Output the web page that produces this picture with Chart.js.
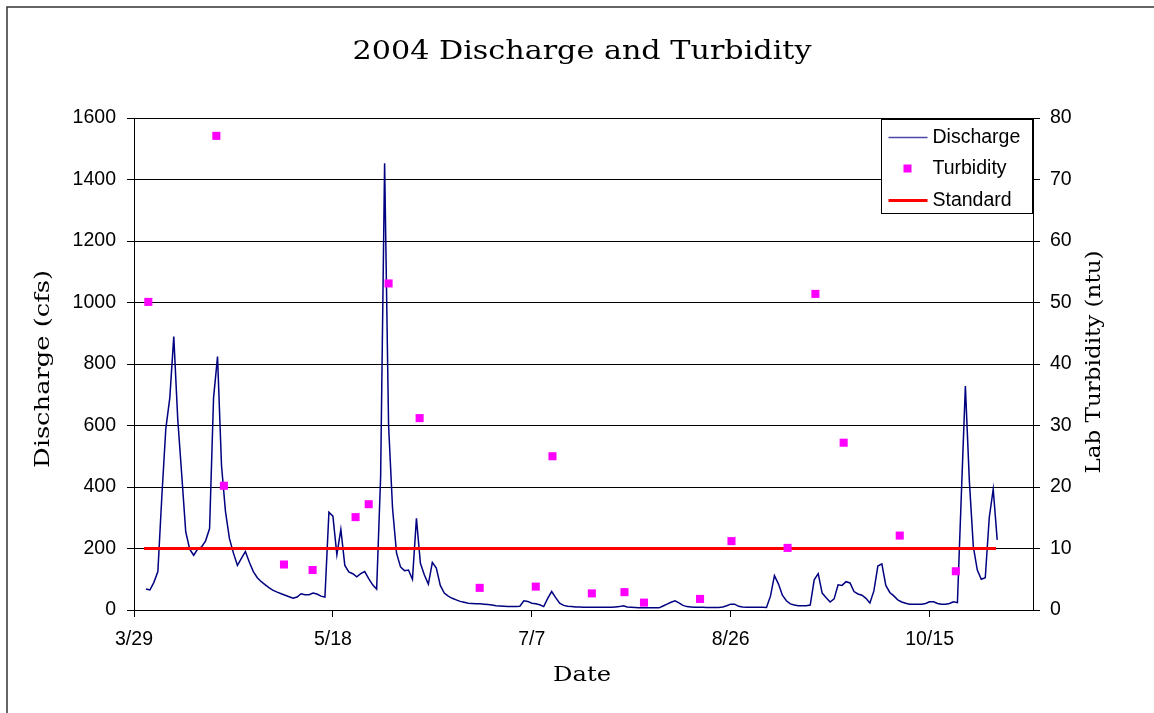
<!DOCTYPE html>
<html lang="en">
<head>
<meta charset="UTF-8">
<title>2004 Discharge and Turbidity</title>
<style>
  html, body { margin: 0; padding: 0; background: #fff; }
</style>
</head>
<body>
<canvas id="chart" width="1154" height="713"></canvas>

<script src="https://cdn.jsdelivr.net/npm/chart.js@4.4.1/dist/chart.umd.min.js"></script>
<script>
// x values are days after 3/29/2004
const tickLabels = ['3/29', '5/18', '7/7', '8/26', '10/15'];

// daily discharge (cfs), first value is day 3 (4/1)
const dischargeStart = 3;
const dischargeCfs = [
  68, 65, 90, 125, 370, 590, 690, 889, 620, 440,
  255, 198, 178, 198, 205, 225, 265, 690, 824, 470,
  320, 232, 185, 145, 168, 190, 155, 125, 105, 92,
  82, 72, 64, 58, 53, 48, 43, 38, 42, 53,
  50, 50, 55, 52, 45, 42, 318, 305, 180, 262,
  145, 124, 118, 108, 118, 125, 102, 82, 68, 433,
  1453, 600, 330, 185, 140, 128, 130, 100, 298, 152,
  114, 84, 155, 136, 80, 55, 45, 38, 33, 28,
  25, 22, 21, 20, 20, 19, 18, 16, 14, 13,
  12, 11, 11, 11, 12, 30, 28, 22, 20, 17,
  11, 38, 60, 40, 22, 15, 12, 11, 10, 10,
  9, 9, 9, 9, 9, 9, 9, 9, 10, 11,
  14, 10, 9, 8, 7, 7, 7, 7, 7, 7,
  13, 19, 25, 30, 23, 15, 11, 10, 9, 9,
  9, 8, 8, 8, 8, 10, 14, 19, 19, 12,
  10, 9, 9, 9, 9, 9, 8, 45, 112, 85,
  48, 30, 20, 16, 14, 14, 14, 16, 98, 118,
  55, 40, 26, 36, 82, 80, 92, 88, 60, 52,
  48, 38, 23, 62, 143, 150, 80, 57, 46, 33,
  26, 22, 19, 19, 19, 19, 21, 27, 27, 21,
  19, 19, 21, 27, 24, 380, 728, 420, 206, 130,
  100, 105, 300, 393, 228
];

// lab turbidity samples
const turbidityDays = [3.6, 20.7, 22.6, 37.7, 44.9, 55.7, 59, 64, 71.8, 86.9, 101,
  105.2, 115.1, 123.3, 128.2, 142.3, 150.2, 164.3, 171.3, 178.4, 192.5, 206.6];
const turbidityNtu = [50.1, 77.1, 20.2, 7.4, 6.5, 15.1, 17.2, 53.1, 31.2, 3.6, 3.8,
  25.0, 2.7, 2.9, 1.2, 1.8, 11.2, 10.1, 51.4, 27.2, 12.1, 6.3];

// turbidity standard
const standardDays = [2.5, 216.7];
const standardNtu = 10;

const tickFont = { family: '"Liberation Sans", Arial, sans-serif', size: 19.5 };

function stretchText(ctx, text, x, y, size, width, angle) {
  ctx.save();
  ctx.font = size + 'px "DejaVu Serif", serif';
  const w = ctx.measureText(text).width;
  ctx.translate(x, y);
  ctx.rotate(angle);
  ctx.scale(width / w, 1);
  ctx.textAlign = 'center';
  ctx.textBaseline = 'middle';
  ctx.fillStyle = '#000';
  ctx.fillText(text, 0, 0);
  ctx.restore();
}

// frame, titles and the boxed legend
const decor = {
  id: 'decor',
  beforeDraw(chart) {
    const c = chart.ctx;
    c.save();
    c.fillStyle = '#fff';
    c.fillRect(0, 0, chart.width, chart.height);
    c.strokeStyle = '#333';
    c.lineWidth = 1.5;
    c.strokeRect(7, 7, chart.width + 20, chart.height + 20);
    c.restore();
  },
  afterDraw(chart) {
    const c = chart.ctx;
    const area = chart.chartArea;
    stretchText(c, '2004 Discharge and Turbidity', 582, 52, 25.5, 459, 0);
    stretchText(c, 'Date', 582, 676, 20, 58, 0);
    stretchText(c, 'Discharge (cfs)', 44, 369, 21, 198, -Math.PI / 2);
    stretchText(c, 'Lab Turbidity (ntu)', 1095, 362, 21, 223, -Math.PI / 2);

    const lx = area.right - 151.5, ly = area.top + 1.5;
    c.save();
    c.fillStyle = '#fff';
    c.fillRect(lx, ly, 151, 94);
    c.strokeStyle = '#000';
    c.lineWidth = 1;
    c.strokeRect(lx, ly, 151, 94);
    c.font = '19.5px "Liberation Sans", Arial, sans-serif';
    c.textBaseline = 'middle';
    const ds = chart.data.datasets;
    const rows = [18, 49, 81];
    ds.forEach((d, i) => {
      const y = ly + rows[i];
      if (d.showLine === false) {
        c.fillStyle = d.backgroundColor;
        c.fillRect(lx + 22, y - 4, 8, 8);
      } else {
        c.strokeStyle = d.legendColor || d.borderColor;
        c.lineWidth = d.borderWidth;
        c.beginPath();
        c.moveTo(lx + 7, y);
        c.lineTo(lx + 46, y);
        c.stroke();
      }
      c.fillStyle = '#000';
      c.fillText(d.label, lx + 51, y);
    });
    c.restore();
  }
};

const ctx = document.getElementById('chart').getContext('2d');
new Chart(ctx, {
  data: {
    datasets: [
      {
        type: 'line',
        label: 'Discharge',
        data: dischargeCfs.map((v, i) => ({ x: dischargeStart + i, y: v })),
        yAxisID: 'y',
        borderColor: '#000080',
        legendColor: '#4a4aa6',
        borderWidth: 1.5,
        pointRadius: 0,
        tension: 0,
        order: 3
      },
      {
        type: 'scatter',
        label: 'Turbidity',
        data: turbidityDays.map((d, i) => ({ x: d, y: turbidityNtu[i] })),
        yAxisID: 'y1',
        showLine: false,
        pointStyle: 'rect',
        pointRadius: 5.7,
        pointBorderWidth: 0,
        backgroundColor: '#ff00ff',
        borderColor: '#ff00ff',
        order: 1
      },
      {
        type: 'line',
        label: 'Standard',
        data: standardDays.map(d => ({ x: d, y: standardNtu })),
        yAxisID: 'y1',
        borderColor: '#ff0000',
        borderWidth: 3,
        pointRadius: 0,
        order: 2
      }
    ]
  },
  options: {
    responsive: false,
    animation: false,
    layout: { padding: { top: 118, left: 0, right: 0, bottom: 0 } },
    plugins: {
      legend: { display: false },
      tooltip: { enabled: false },
      title: { display: false }
    },
    scales: {
      x: {
        type: 'linear',
        min: 0,
        max: 226,
        afterFit: s => { s.height = 103; },
        border: { color: '#000', width: 1 },
        grid: { drawOnChartArea: false, tickLength: 7, color: '#000' },
        ticks: {
          stepSize: 50,
          includeBounds: false,
          padding: 11,
          maxRotation: 0,
          color: '#000',
          font: tickFont,
          callback: v => (v % 50 === 0 ? tickLabels[v / 50] : '')
        }
      },
      y: {
        position: 'left',
        min: 0,
        max: 1600,
        afterFit: s => { s.width = 134; },
        border: { color: '#000', width: 1 },
        grid: { color: '#000', lineWidth: 1, tickLength: 7 },
        ticks: { stepSize: 200, padding: 11, color: '#000', font: tickFont, callback: v => String(v) }
      },
      y1: {
        position: 'right',
        min: 0,
        max: 80,
        afterFit: s => { s.width = 121; },
        border: { color: '#000', width: 1 },
        grid: { drawOnChartArea: false, color: '#000', tickLength: 7 },
        ticks: { stepSize: 10, padding: 10, color: '#000', font: tickFont, callback: v => String(v) }
      }
    }
  },
  plugins: [decor]
});
</script>
</body>
</html>
